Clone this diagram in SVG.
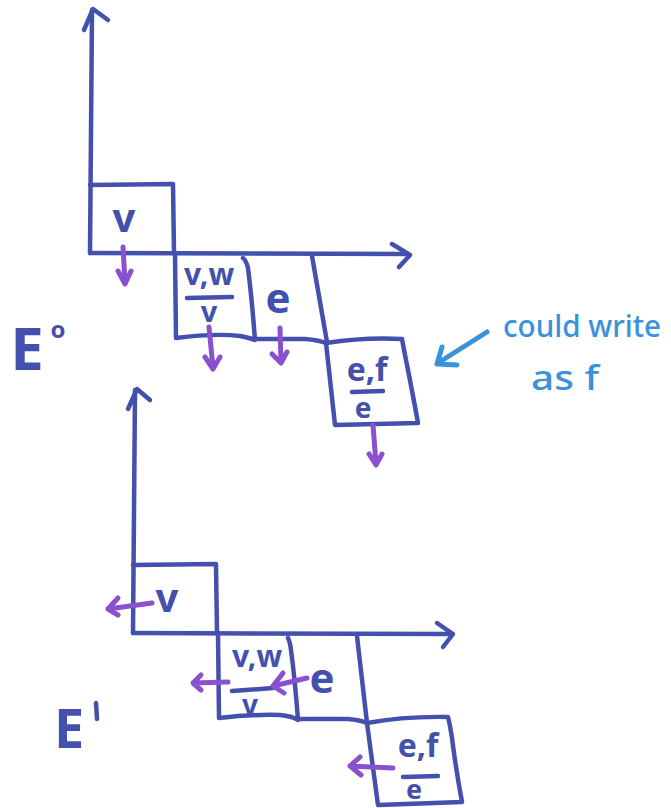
<svg xmlns="http://www.w3.org/2000/svg" width="671" height="808" viewBox="0 0 671 808">
<style>
.ln{fill:none;stroke:#4450AE;stroke-width:4.5;stroke-linecap:round;stroke-linejoin:round}
.pa{fill:none;stroke:#8B50D0;stroke-width:5;stroke-linecap:round;stroke-linejoin:round}
.ba{fill:none;stroke:#3A92DA;stroke-width:5;stroke-linecap:round;stroke-linejoin:round}
.t{font-family:"Noto Sans",sans-serif;fill:#4450AE;font-weight:bold;text-anchor:middle}
.bt{font-family:"Noto Sans",sans-serif;fill:#3A92DA;font-weight:500}
</style>
<rect width="671" height="808" fill="#ffffff"/>

<g id="axes-top">
<path class="ln" d="M90,253 L92,10"/>
<path class="ln" d="M84,30 L93,9 L108,20"/>
<path class="ln" d="M90,253 L408,254"/>
<path class="ln" d="M392,244 L410,255 L399,267"/>
</g>
<g id="cell-v-top">
<path class="ln" d="M90,185 L173,184 L174,253"/>
<text class="t" x="124" y="232" font-size="40">v</text>
</g>
<g id="cell-vw-top">
<path class="ln" d="M175,253 L176,338 Q215,333 240,336 Q250,338 255,340 Q252,300 248,268 Q246,260 243,258"/>
<text class="t" x="209" y="285" font-size="30">v,w</text>
<path class="ln" d="M187,298 L232,297"/>
<text class="t" x="209" y="322" font-size="29">v</text>
</g>
<g id="cell-e-top">
<path class="ln" d="M255,339 L305,339 Q318,340 326,343"/>
<path class="ln" d="M312,256 L327,342"/>
<text class="t" x="278" y="313" font-size="42">e</text>
</g>
<g id="cell-ef-top">
<path class="ln" d="M326,343 L335,425 L418,423 Q412,390 407,365 Q404,350 402,339 Q365,337 326,343"/>
<text class="t" x="367" y="381" font-size="32">e,f</text>
<path class="ln" d="M352,392 L383,391"/>
<text class="t" x="363" y="418" font-size="28">e</text>
</g>
<g id="label-E0">
<text class="t" x="27" y="370" font-size="60">E</text>
<text class="t" x="58" y="338" font-size="24">o</text>
</g>
<g id="note">
<text class="bt" x="503" y="337" font-size="31" textLength="158" lengthAdjust="spacingAndGlyphs">could write</text>
<text class="bt" x="531" y="390" font-size="34" textLength="68" lengthAdjust="spacingAndGlyphs">as f</text>
</g>

<g id="axes-bottom">
<path class="ln" d="M133,633 L135,390"/>
<path class="ln" d="M128,409 L137,389 L150,400"/>
<path class="ln" d="M133,633 L452,634"/>
<path class="ln" d="M437,623 L453,634 L443,647"/>
</g>
<g id="cell-v-bottom">
<path class="ln" d="M133,565 L216,564 L217,633"/>
<text class="t" x="167" y="612" font-size="40">v</text>
</g>
<g id="cell-vw-bottom">
<path class="ln" d="M218,633 L219,718 Q255,714 280,715 Q292,716 298,720 Q295,680 291,650 Q290,642 288,638"/>
<text class="t" x="257" y="667" font-size="30">v,w</text>
<path class="ln" d="M232,691 L273,688"/>
<text class="t" x="250" y="715" font-size="28">v</text>
</g>
<g id="cell-e-bottom">
<path class="ln" d="M298,719 L348,719 Q360,720 367,723"/>
<path class="ln" d="M357,636 L367,723"/>
<text class="t" x="322" y="693" font-size="42">e</text>
</g>
<g id="cell-ef-bottom">
<path class="ln" d="M367,723 L378,805 L462,802 Q456,770 452,738 Q450,725 448,717 Q405,716 367,723"/>
<text class="t" x="418" y="757" font-size="32">e,f</text>
<path class="ln" d="M403,777 L438,776"/>
<text class="t" x="414" y="799" font-size="27">e</text>
</g>
<g id="label-E1">
<text class="t" x="69" y="748" font-size="54">E</text>
<path class="ln" d="M96,703 L97,719"/>
</g>

<g id="connectors">
<path class="pa" d="M123,247 L125,283 M118,271 L125,284 L131,271"/>
<path class="pa" d="M209,327 L213,368 M205,357 L213,369 L220,357"/>
<path class="pa" d="M280,328 L281,362 M272,354 L281,363 L287,352"/>
<path class="pa" d="M373,425 L376,464 M369,454 L376,465 L382,454"/>
<path class="ba" d="M487,332 L438,363 M442,347 L437,364 L457,365"/>
<path class="pa" d="M152,603 L108,609 M118,598 L108,609 L118,615"/>
<path class="pa" d="M228,682 L193,683 M201,675 L193,683 L201,690"/>
<path class="pa" d="M307,678 L273,686 M283,673 L273,686 L284,693"/>
<path class="pa" d="M393,768 L350,766 M360,757 L350,766 L361,775"/>
</g>
</svg>
